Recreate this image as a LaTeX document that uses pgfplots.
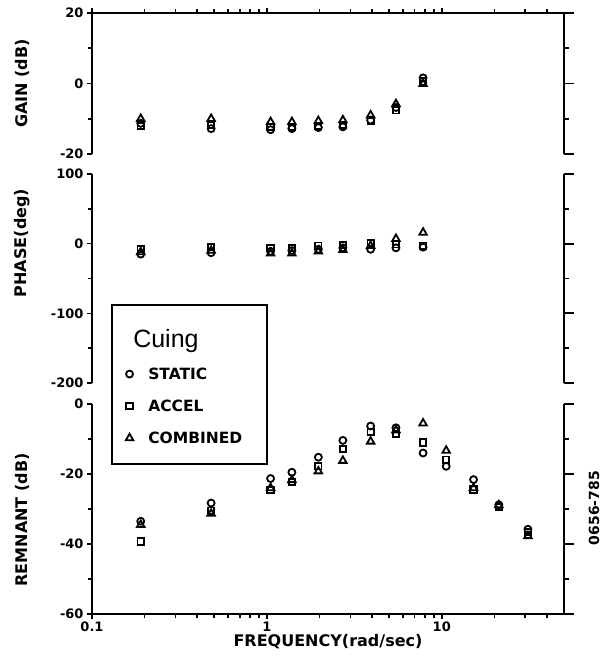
\documentclass[border=0pt]{standalone}
\usepackage{fontspec}
\setmainfont{DejaVu Sans}
\newfontfamily\cuingfont{Liberation Sans}
\usepackage{pgfplots}
\usepackage{pgfplotstable}
\pgfplotsset{compat=1.18}

% frequency, static, accel, combined
\pgfplotstableread{
f s a c
0.19 -11.3 -12.0 -10.0
0.48 -12.8 -11.8 -10.0
1.05 -13.1 -12.3 -10.9
1.39 -12.8 -12.3 -10.9
1.97 -12.5 -12.1 -10.6
2.72 -12.3 -11.8 -10.4
3.92 -10.4 -10.6 -9.0
5.47 -6.8 -7.6 -5.8
7.82 1.6 0.6 -0.1
}\gaintab
\pgfplotstableread{
f s a c
0.19 -15 -8 -12
0.48 -13 -5 -10
1.05 -11 -6 -14
1.39 -10 -6 -14
1.97 -8 -3 -11
2.72 -6 -2 -9
3.92 -8 1 -3
5.47 -6 -1 7
7.82 -5 -3 16
}\phasetab
\pgfplotstableread{
f s a c
0.19 -33.5 -39.3 -34.5
0.48 -28.3 -30.5 -31.3
1.05 -21.3 -24.6 -24.0
1.39 -19.5 -22.3 -21.7
1.97 -15.2 -17.8 -19.2
2.72 -10.4 -12.9 -16.2
3.92 -6.3 -7.9 -10.7
5.47 -6.8 -8.6 -7.5
7.82 -14.0 -11.0 -5.5
10.6 -17.8 -15.9 -13.3
15.2 -21.6 -24.4 -24.0
21.2 -28.8 -29.4 -28.9
31.1 -35.8 -36.6 -37.7
}\remtab

\pgfplotsset{
  mysta/.style={only marks, mark=o, mark size=3.5pt, line width=1.8pt, black},
  myacc/.style={only marks, mark=square, mark size=3.2pt, line width=1.8pt, black},
  mycom/.style={only marks, mark=triangle, mark size=4.3pt, line width=1.8pt, black},
}

\begin{document}
\begin{tikzpicture}
% gain
\begin{axis}[scale only axis, width=472pt, height=141pt, at={(92pt,-13pt)}, anchor=north west,
  xmode=log, xmin=0.1, xmax=50, ymin=-20, ymax=20,
  axis x line*=top, axis y line*=left, tick align=outside,
  major tick length=5pt, minor tick length=4pt,
  axis line style={line width=2.2pt}, tick style={line width=1.6pt, black},
  xtick={0.1,1,10}, xticklabels={},
  minor xtick={0.2,0.3,0.4,0.5,0.6,0.7,0.8,0.9,2,3,4,5,6,7,8,9,20,30,40},
  ytick={-20,0,20}, yticklabels={-20,0,20}, minor ytick={-10,10},
  yticklabel style={font=\bfseries\fontsize{13}{13}\selectfont},
  ylabel={GAIN (dB)},
  ylabel style={font=\bfseries\fontsize{16}{16}\selectfont, at={(axis description cs:-0.148,0.5)}, anchor=center}]
\addplot[mysta] table[x=f, y=s] {\gaintab};
\addplot[myacc] table[x=f, y=a] {\gaintab};
\addplot[mycom] table[x=f, y=c] {\gaintab};
\end{axis}
\begin{axis}[scale only axis, width=472pt, height=141pt, at={(92pt,-13pt)}, anchor=north west,
  xmin=0.1, xmax=50, ymin=-20, ymax=20,
  hide x axis, axis y line*=right, tick align=outside,
  major tick length=10pt, minor tick length=5pt,
  axis line style={line width=2.2pt}, tick style={line width=1.8pt, black},
  ytick={-20,0,20}, minor ytick={-10,10}, yticklabels={}]
\end{axis}
% phase
\begin{axis}[scale only axis, width=472pt, height=209pt, at={(92pt,-174pt)}, anchor=north west,
  xmode=log, xmin=0.1, xmax=50, ymin=-200, ymax=100,
  hide x axis, axis y line*=left, tick align=outside,
  major tick length=5pt, minor tick length=4pt,
  axis line style={line width=2.2pt}, tick style={line width=1.6pt, black},
  ytick={-200,-100,0,100}, yticklabels={-200,-100,0,100}, minor ytick={-150,-50,50},
  yticklabel style={font=\bfseries\fontsize{13}{13}\selectfont},
  ylabel={PHASE(deg)},
  ylabel style={font=\bfseries\fontsize{16}{16}\selectfont, at={(axis description cs:-0.148,0.67)}, anchor=center}]
\addplot[mysta] table[x=f, y=s] {\phasetab};
\addplot[myacc] table[x=f, y=a] {\phasetab};
\addplot[mycom] table[x=f, y=c] {\phasetab};
\end{axis}
\begin{axis}[scale only axis, width=472pt, height=209pt, at={(92pt,-174pt)}, anchor=north west,
  xmin=0.1, xmax=50, ymin=-200, ymax=100,
  hide x axis, axis y line*=right, tick align=outside,
  major tick length=10pt, minor tick length=5pt,
  axis line style={line width=2.2pt}, tick style={line width=1.8pt, black},
  ytick={-200,-100,0,100}, minor ytick={-150,-50,50}, yticklabels={}]
\end{axis}
% remnant
\begin{axis}[scale only axis, width=472pt, height=210pt, at={(92pt,-404pt)}, anchor=north west,
  xmin=0.1, xmax=50, ymin=-60, ymax=0,
  hide x axis, axis y line*=right, tick align=outside,
  major tick length=10pt, minor tick length=5pt,
  axis line style={line width=2.2pt}, tick style={line width=1.8pt, black},
  ytick={-60,-40,-20,0}, minor ytick={-50,-30,-10}, yticklabels={}]
\end{axis}
\begin{axis}[scale only axis, width=472pt, height=210pt, at={(92pt,-404pt)}, anchor=north west,
  xmode=log, xmin=0.1, xmax=50, ymin=-60, ymax=0,
  axis x line*=bottom, axis y line*=left, tick align=outside,
  major tick length=5pt, minor tick length=4pt,
  axis line style={line width=2.2pt}, tick style={line width=1.6pt, black},
  xtick={0.1,1,10}, xticklabels={0.1,1,10},
  minor xtick={0.2,0.3,0.4,0.5,0.6,0.7,0.8,0.9,2,3,4,5,6,7,8,9,20,30,40},
  ytick={-60,-40,-20,0}, yticklabels={-60,-40,-20,0}, minor ytick={-50,-30,-10},
  tick label style={font=\bfseries\fontsize{13}{13}\selectfont},
  xticklabel style={yshift=1pt},
  xlabel={FREQUENCY(rad/sec)},
  xlabel style={font=\bfseries\fontsize{16}{16}\selectfont, at={(axis description cs:0.5,0)}, anchor=north, inner sep=0pt, yshift=-20pt},
  ylabel={REMNANT (dB)},
  ylabel style={font=\bfseries\fontsize{16}{16}\selectfont, at={(axis description cs:-0.148,0.448)}, anchor=center},
  legend cell align=left,
  legend style={at={(axis description cs:0.0403,1.476)}, anchor=north west,
    draw=black, line width=2pt, fill=white, inner xsep=9pt, inner ysep=17pt,
    row sep=15pt, font=\bfseries\fontsize{15.5}{15.5}\selectfont,
    /tikz/every odd column/.append style={column sep=13pt}}]
\addlegendimage{empty legend}
\addlegendentry{\hspace*{-15pt}\mdseries\cuingfont\fontsize{25}{25}\selectfont\rule{0pt}{23pt}Cuing}
\addplot[mysta] table[x=f, y=s] {\remtab};
\addlegendentry{STATIC}
\addplot[myacc] table[x=f, y=a] {\remtab};
\addlegendentry{ACCEL}
\addplot[mycom] table[x=f, y=c] {\remtab};
\addlegendentry{COMBINED\hspace*{14pt}}
\end{axis}
\node[rotate=90, font=\bfseries\fontsize{14}{14}\selectfont] at (594pt,-508pt) {0656-785};
\pgfresetboundingbox
\useasboundingbox (0,0) rectangle (611pt,-656pt);
\end{tikzpicture}
\end{document}
